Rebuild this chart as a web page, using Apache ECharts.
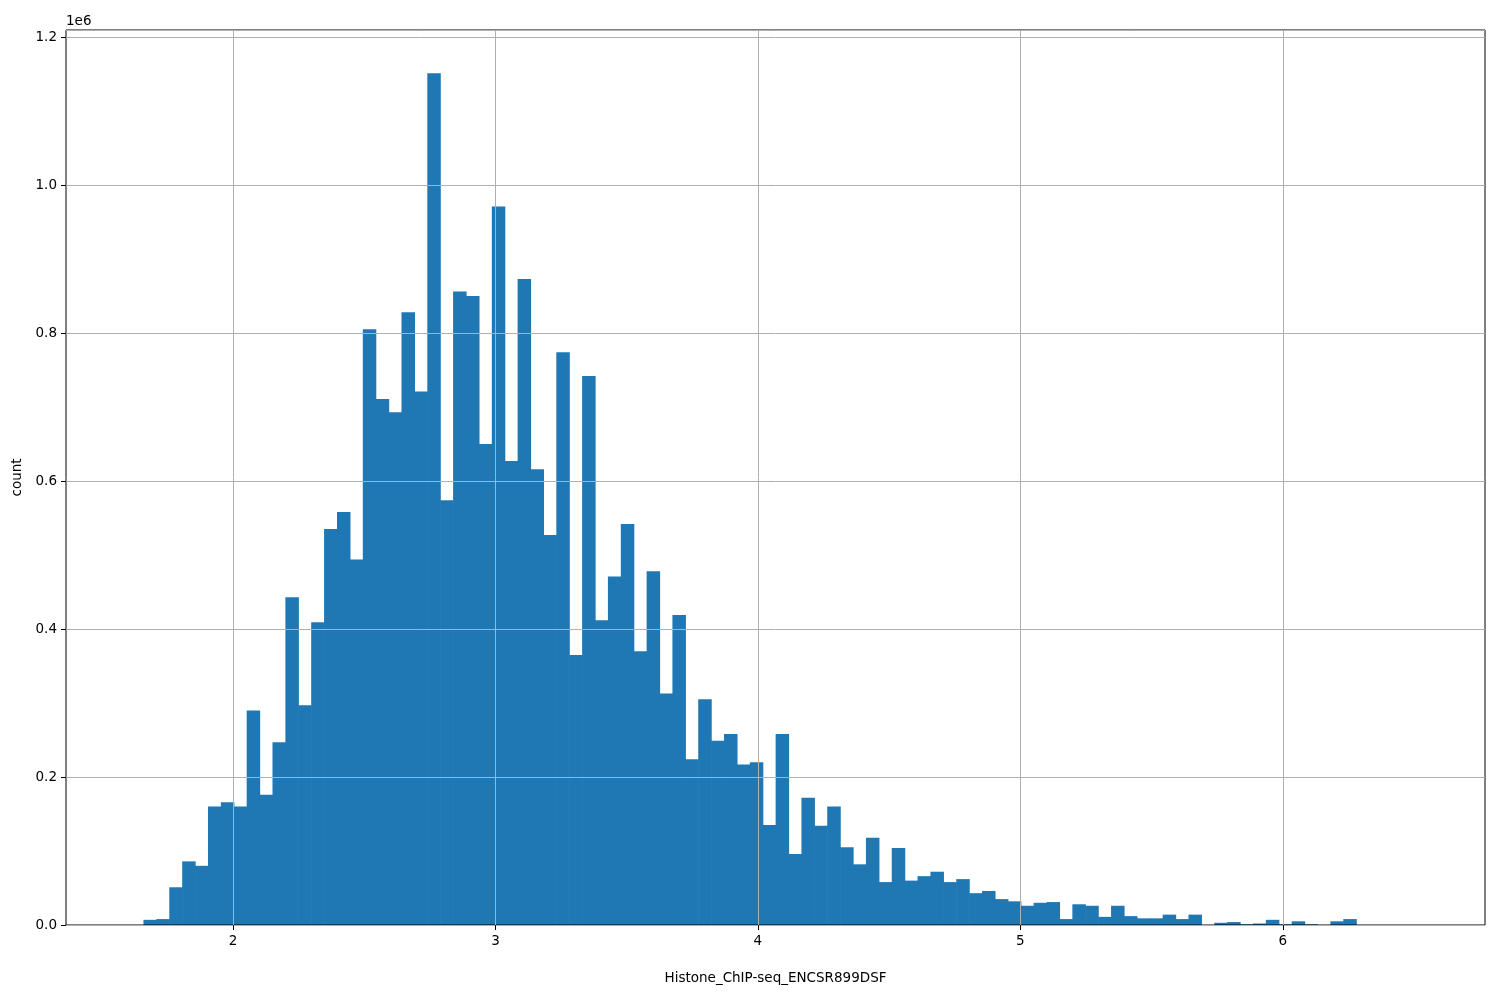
<!DOCTYPE html>
<html><head><meta charset="utf-8">
<script src="https://cdn.jsdelivr.net/npm/echarts@6/dist/echarts.min.js"></script>
<style>html,body{margin:0;padding:0;background:#fff}#c{width:1500px;height:1000px}</style>
</head><body><div id="c"></div>
<script>
const binStart = 1.61;
const binWidth = 0.04915;
const counts = [0,
0.007,0.008,0.051,0.086,0.080,0.160,0.166,0.160,0.290,0.176,
0.247,0.443,0.297,0.409,0.535,0.558,0.494,0.805,0.711,0.693,
0.828,0.721,1.151,0.574,0.856,0.850,0.650,0.971,0.627,0.873,
0.616,0.527,0.774,0.365,0.742,0.412,0.471,0.542,0.370,0.478,
0.313,0.419,0.224,0.305,0.249,0.258,0.217,0.220,0.135,0.258,
0.096,0.172,0.134,0.160,0.105,0.082,0.118,0.058,0.104,0.060,
0.066,0.072,0.058,0.062,0.043,0.046,0.035,0.032,0.026,0.030,
0.031,0.008,0.028,0.026,0.011,0.026,0.012,0.009,0.009,0.014,
0.008,0.014,0,0.003,0.004,0.001,0.002,0.007,0.001,0.005,
0.001,0,0.005,0.008,0,0,0,0,0,0];
const xTicks = [2,3,4,5,6];
const data = counts.map((c,i)=>[binStart+i*binWidth, binStart+(i+1)*binWidth, c*1e6]);
const font = {fontFamily:'DejaVu Sans', fontSize:13.5, color:'#000'};
const chart = echarts.init(document.getElementById('c'));
chart.setOption({
  animation:false,
  grid:{left:66,right:15,top:30,bottom:75,show:true,borderColor:'#000',borderWidth:1,z:5},
  xAxis:{type:'value',min:1.364,max:6.77,z:5,
    name:'Histone_ChIP-seq_ENCSR899DSF',nameLocation:'middle',nameGap:46,nameTextStyle:font,
    axisLine:{show:false},
    axisTick:{show:true,customValues:xTicks,length:5,lineStyle:{color:'#000'}},
    axisLabel:Object.assign({customValues:xTicks,margin:9,formatter:v=>String(Math.round(v))},font),
    splitLine:{show:true,customValues:xTicks,lineStyle:{color:'#b0b0b0',width:1}}},
  yAxis:{type:'value',min:0,max:1209500,interval:200000,z:5,
    name:'count',nameLocation:'middle',nameGap:38,nameTextStyle:font,
    axisLine:{show:false},
    axisTick:{show:true,length:5,lineStyle:{color:'#000'}},
    axisLabel:Object.assign({margin:9,formatter:v=>(v/1e6).toFixed(1)},font),
    splitLine:{show:true,lineStyle:{color:'#b0b0b0',width:1}}},
  graphic:[{type:'text',left:66,top:14,style:{text:'1e6',font:'13.5px DejaVu Sans',fill:'#000'}}],
  series:[{type:'custom',z:2,data:data,
    encode:{x:[0,1],y:2},
    renderItem:function(params,api){
      const p0=api.coord([api.value(0),api.value(2)]);
      const p1=api.coord([api.value(1),0]);
      return {type:'rect',shape:{x:p0[0],y:p0[1],width:p1[0]-p0[0]+0.6,height:p1[1]-p0[1]},
        style:{fill:'#1f77b4'}};
    }}]
});
</script></body></html>
